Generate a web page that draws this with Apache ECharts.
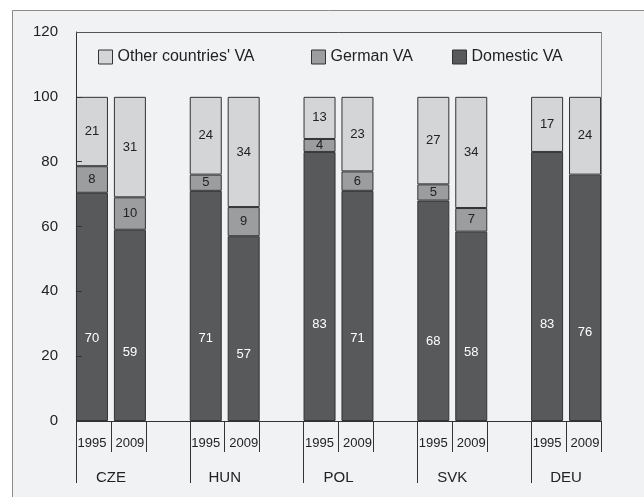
<!DOCTYPE html>
<html>
<head>
<meta charset="utf-8">
<script src="https://cdn.jsdelivr.net/npm/echarts@6/dist/echarts.min.js"></script>
<style>
html,body{margin:0;padding:0;background:#fff;}
#chart{width:644px;height:497px;}
</style>
</head>
<body>
<div id="chart"></div>
<script>
// ---- data ----
const countries = ['CZE', 'HUN', 'POL', 'SVK', 'DEU'];
const years = ['1995', '2009'];
// order: CZE95, CZE09, HUN95, HUN09, POL95, POL09, SVK95, SVK09, DEU95, DEU09
const domesticVA = [70.4, 59, 71, 57, 83, 71, 68, 58.4, 83, 76];
const germanVA   = [8.2, 10, 5, 9, 4, 6, 5, 7.3, null, null];
const otherVA    = [21.4, 31, 24, 34, 13, 23, 27, 34.3, 17, 24];
const yTicks = [0, 20, 40, 60, 80, 100, 120];

// ---- build category axis with spacer categories between countries ----
const cats = [];
function spaced(arr) {
  const out = [];
  countries.forEach((c, g) => {
    years.forEach((y, k) => out.push(arr[g * years.length + k] == null ? '-' : arr[g * years.length + k]));
    if (g < countries.length - 1) out.push('-');
  });
  return out;
}
countries.forEach((c, g) => {
  years.forEach(y => cats.push(y));
  if (g < countries.length - 1) cats.push('');
});

const gridLeft = 73, gridRight = 40, gridTop = 32, gridBottom = 76;
const gridWidth = 644 - gridLeft - gridRight;
const barW = 32;
const catW = gridWidth / cats.length;
const half = (barW / 2) / catW;
const step = years.length + 1;

const longTicks = countries.map((c, g) => g * step - half);
const countryPos = countries.map((c, g) => g * step + 0.5);
const shortTicks = [];
countries.forEach((c, g) => { shortTicks.push(g * step + 0.5); shortTicks.push(g * step + 1 + half); });

const FONT = "'Liberation Sans', Arial, sans-serif";
const C_OTHER = '#d4d5d7', C_GER = '#9c9d9f', C_DOM = '#58595b', C_EDGE = '#333333';

function lbl(color, pos) {
  return {
    show: true, position: pos || 'inside', align: 'center', verticalAlign: 'middle',
    color: color, fontSize: 13, fontFamily: FONT,
    formatter: p => (p.value == null || p.value === '-') ? '' : String(Math.round(p.value))
  };
}

const chart = echarts.init(document.getElementById('chart'), null, {renderer: 'canvas'});
const plotL = gridLeft + 3, plotR = 644 - gridRight - 3, plotT = gridTop, plotB = 497 - gridBottom;

chart.setOption({
  backgroundColor: '#ffffff',
  animation: false,
  graphic: [
    {type: 'rect', z: -10, silent: true, shape: {x: 12.5, y: 10.5, width: 700, height: 600},
     style: {fill: '#f1f2f4', stroke: '#8a8a8a', lineWidth: 1}},
    {type: 'line', z: 50, silent: true, shape: {x1: plotL, y1: plotT + 0.5, x2: plotR + 0.5, y2: plotT + 0.5},
     style: {stroke: '#555555', lineWidth: 1}},
    {type: 'line', z: 50, silent: true, shape: {x1: plotR + 0.5, y1: plotT, x2: plotR + 0.5, y2: plotB},
     style: {stroke: '#8a8a8a', lineWidth: 1}},
    {type: 'line', z: 50, silent: true, shape: {x1: plotL, y1: plotB + 0.5, x2: plotR + 1, y2: plotB + 0.5},
     style: {stroke: '#333333', lineWidth: 1}}
  ],
  legend: [
    {left: 98, top: 49, data: ['Other countries\' VA']},
    {left: 311, top: 49, data: ['German VA']},
    {left: 452, top: 49, data: ['Domestic VA']}
  ].map(l => Object.assign(l, {
    icon: 'rect', itemWidth: 14, itemHeight: 14, selectedMode: false, padding: 0,
    textStyle: {fontSize: 16, fontFamily: FONT, color: '#222'},
    itemStyle: {borderColor: C_EDGE, borderWidth: 1}
  })),
  grid: {left: gridLeft, right: gridRight, top: gridTop, bottom: gridBottom, containLabel: false},
  xAxis: [
    {type: 'category', data: cats, boundaryGap: true,
     axisLine: {show: false, onZero: false}, axisTick: {show: false},
     axisLabel: {interval: 0, margin: 16, fontSize: 13, fontFamily: FONT, color: '#222'}},
    {type: 'value', position: 'bottom', min: -0.5, max: cats.length - 0.5,
     axisLine: {show: false, onZero: false}, splitLine: {show: false},
     axisTick: {show: true, length: 62, lineStyle: {color: '#333'}, customValues: longTicks},
     axisLabel: {show: true, margin: 49, fontSize: 15, fontFamily: FONT, color: '#222',
                 customValues: countryPos,
                 formatter: v => countries[Math.round((v - 0.5) / step)] || ''}},
    {type: 'value', position: 'bottom', min: -0.5, max: cats.length - 0.5,
     axisLine: {show: false, onZero: false}, splitLine: {show: false},
     axisTick: {show: true, length: 31, lineStyle: {color: '#333'}, customValues: shortTicks},
     axisLabel: {show: false}}
  ],
  yAxis: {
    type: 'value', min: 0, max: 120, interval: 20, offset: -3, z: 10, position: 'left',
    axisLine: {show: true, onZero: false, lineStyle: {color: '#333'}},
    axisTick: {show: true, inside: true, length: 6, lineStyle: {color: '#333'}},
    splitLine: {show: false},
    axisLabel: {margin: 18, fontSize: 15, fontFamily: FONT, color: '#222',
                formatter: v => yTicks.indexOf(v) >= 0 ? String(v) : ''}
  },
  series: [
    {name: 'Domestic VA', type: 'bar', stack: 'va', barWidth: barW, data: spaced(domesticVA),
     itemStyle: {color: C_DOM, borderColor: C_EDGE, borderWidth: 1}, label: lbl('#ffffff', ['50%', '64%'])},
    {name: 'German VA', type: 'bar', stack: 'va', barWidth: barW, data: spaced(germanVA),
     itemStyle: {color: C_GER, borderColor: C_EDGE, borderWidth: 1}, label: lbl('#222222')},
    {name: 'Other countries\' VA', type: 'bar', stack: 'va', barWidth: barW, data: spaced(otherVA),
     itemStyle: {color: C_OTHER, borderColor: C_EDGE, borderWidth: 1}, label: lbl('#222222')}
  ]
});
</script>
</body>
</html>
